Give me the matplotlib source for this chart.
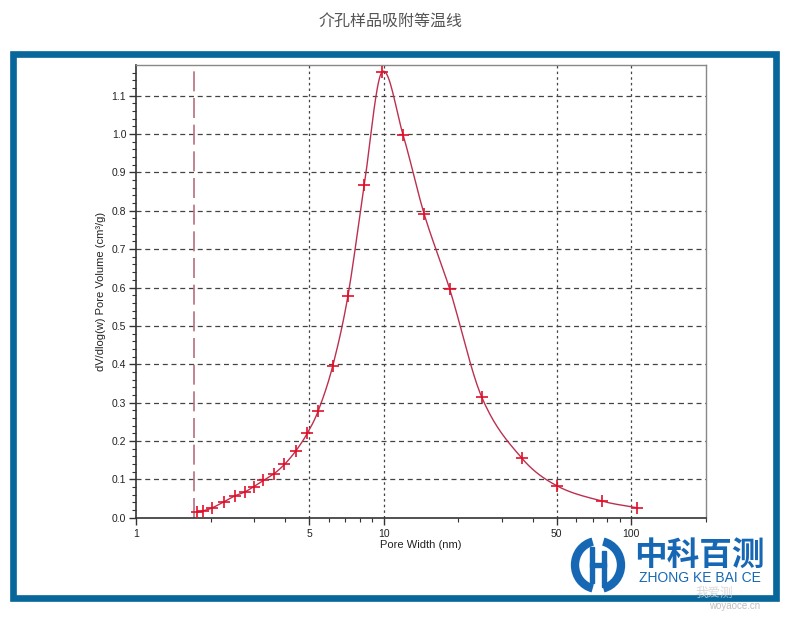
import numpy as np
import matplotlib
matplotlib.use('Agg')
from matplotlib import pyplot as plt
from matplotlib.patches import Rectangle, Arc
from matplotlib.ticker import FixedLocator, NullFormatter, FixedFormatter

plt.rcParams['font.family'] = ['Liberation Sans', 'DejaVu Sans']

TITLE = '介孔样品吸附等温线'
X_LABEL = 'Pore Width (nm)'
Y_LABEL = 'dV/dlog(w) Pore Volume (cm³/g)'

# pore width (nm) and dV/dlog(w)
pore_width = [1.77, 1.87, 2.02, 2.26, 2.51, 2.75, 2.99, 3.27, 3.60, 3.98, 4.42,
              4.92, 5.45, 6.23, 7.18, 8.36, 9.84, 12.0, 14.6, 18.5, 24.9, 36.1,
              50.2, 76.6, 105.4]
pore_volume = [0.014, 0.018, 0.025, 0.041, 0.057, 0.067, 0.081, 0.097, 0.114,
               0.139, 0.174, 0.220, 0.279, 0.395, 0.578, 0.868, 1.161, 0.997,
               0.791, 0.596, 0.315, 0.156, 0.083, 0.043, 0.026]
cutoff_width = 1.71

x_major = [1, 5, 10, 50, 100]
x_major_labels = ['1', '5', '10', '50', '100']
x_minor = [2, 3, 4, 6, 7, 8, 9, 20, 30, 40, 60, 70, 80, 90, 200]
y_major = [0.0, 0.1, 0.2, 0.3, 0.4, 0.5, 0.6, 0.7, 0.8, 0.9, 1.0, 1.1]


def smooth(xs, ys, n=20):
    # cubic hermite through the points, in log-x space
    lx = np.log10(xs)
    ys = np.asarray(ys, dtype=float)
    m = np.zeros_like(ys)
    m[1:-1] = (ys[2:] - ys[:-2]) / (lx[2:] - lx[:-2])
    m[0] = (ys[1] - ys[0]) / (lx[1] - lx[0])
    m[-1] = (ys[-1] - ys[-2]) / (lx[-1] - lx[-2])
    out_x, out_y = [], []
    for i in range(len(lx) - 1):
        h = lx[i + 1] - lx[i]
        t = np.linspace(0, 1, n, endpoint=False)
        h00 = 2 * t**3 - 3 * t**2 + 1
        h10 = t**3 - 2 * t**2 + t
        h01 = -2 * t**3 + 3 * t**2
        h11 = t**3 - t**2
        out_y.extend(h00 * ys[i] + h10 * h * m[i] + h01 * ys[i + 1] + h11 * h * m[i + 1])
        out_x.extend(lx[i] + t * h)
    out_x.append(lx[-1])
    out_y.append(ys[-1])
    return 10 ** np.array(out_x), np.array(out_y)


W, H = 792, 617
fig = plt.figure(figsize=(W / 100, H / 100), dpi=100)

# blue frame
frame_blue = '#07679b'
fig.patches.append(Rectangle((13 / W, 1 - 598 / H), 763 / W, 544 / H, transform=fig.transFigure,
                             fill=False, edgecolor=frame_blue, linewidth=4.8, zorder=0))

fig.text(391 / W, 1 - 22 / H, TITLE, ha='center', va='center', fontsize=11.5,
         color='#555555', family=['Noto Sans CJK SC', 'DejaVu Sans'])

ax = fig.add_axes([136 / W, 1 - 517.7 / H, (705.6 - 136) / W, (517.7 - 65) / H])
ax.set_xscale('log')
ax.set_xlim(1, 200)
ax.set_ylim(0, 1.18)

for yv in y_major[1:]:
    ax.axhline(yv, color='#444444', lw=0.9, ls=(0, (4, 3)), zorder=1)
for xv in x_major[1:]:
    ax.axvline(xv, color='#444444', lw=0.9, ls=(0, (2, 2.5)), zorder=1)

ax.axvline(cutoff_width, color='#b5707f', lw=1.2, ls=(0, (12, 4)), zorder=2)

cx, cy = smooth(pore_width, pore_volume)
ax.plot(cx, cy, color='#bb3050', lw=1.0, zorder=3)
ax.plot(pore_width, pore_volume, ls='none', marker='+', ms=8, mew=1.2,
        color='#e0102a', zorder=4)

ax.xaxis.set_major_locator(FixedLocator(x_major))
ax.xaxis.set_major_formatter(FixedFormatter(x_major_labels))
ax.xaxis.set_minor_locator(FixedLocator(x_minor))
ax.xaxis.set_minor_formatter(NullFormatter())
ax.yaxis.set_major_locator(FixedLocator(y_major))
ax.yaxis.set_major_formatter(FixedFormatter(['%.1f' % v for v in y_major]))
ax.yaxis.set_minor_locator(FixedLocator(np.arange(0, 1.18, 0.02)))

ax.tick_params(which='major', length=5, width=1, color='#333333', labelsize=7.5,
               labelcolor='#222222', pad=2)
ax.tick_params(which='minor', length=3, width=0.8, color='#333333')
ax.tick_params(axis='x', which='major', pad=3)

for side in ['left', 'bottom']:
    ax.spines[side].set_color('#333333')
    ax.spines[side].set_linewidth(1.2)
for side in ['top', 'right']:
    ax.spines[side].set_color('#888888')
    ax.spines[side].set_linewidth(1.0)

ax.set_xlabel(X_LABEL, fontsize=8, color='#222222', labelpad=1)
ax.set_ylabel(Y_LABEL, fontsize=8, color='#222222', labelpad=4)

# logo, bottom right
logo_blue = '#1768b4'
lx0, ly0 = 598 / W, 1 - 565 / H
fig.patches.append(Arc((lx0, ly0), 46 / W, 48 / H, theta1=100, theta2=260,
                       transform=fig.transFigure, color=logo_blue, lw=6))
fig.patches.append(Arc((lx0, ly0), 46 / W, 48 / H, theta1=-80, theta2=80,
                       transform=fig.transFigure, color=logo_blue, lw=6))
fig.patches.append(Rectangle((590 / W, 1 - 583 / H), 4 / W, 36 / H,
                             transform=fig.transFigure, color=logo_blue))
fig.patches.append(Rectangle((602 / W, 1 - 587 / H), 4 / W, 36 / H,
                             transform=fig.transFigure, color=logo_blue))
fig.patches.append(Rectangle((590 / W, 1 - 567 / H), 16 / W, 4 / H,
                             transform=fig.transFigure, color=logo_blue))
fig.text(699 / W, 1 - 555 / H, '中科百测', ha='center', va='center', fontsize=23.5,
         fontweight='bold', color=logo_blue, family=['Noto Sans CJK SC', 'DejaVu Sans'])
fig.text(700 / W, 1 - 578 / H, 'ZHONG KE BAI CE', ha='center', va='center', fontsize=10,
         color=logo_blue)
fig.text(714 / W, 1 - 593 / H, '我爱测', ha='center', va='center', fontsize=9,
         color='#d0d0d0', alpha=0.8, family=['Noto Sans CJK SC', 'DejaVu Sans'])
fig.text(735 / W, 1 - 606 / H, 'woyaoce.cn', ha='center', va='center', fontsize=7,
         color='#c0c0c0')

fig.savefig('out.png', dpi=100)
